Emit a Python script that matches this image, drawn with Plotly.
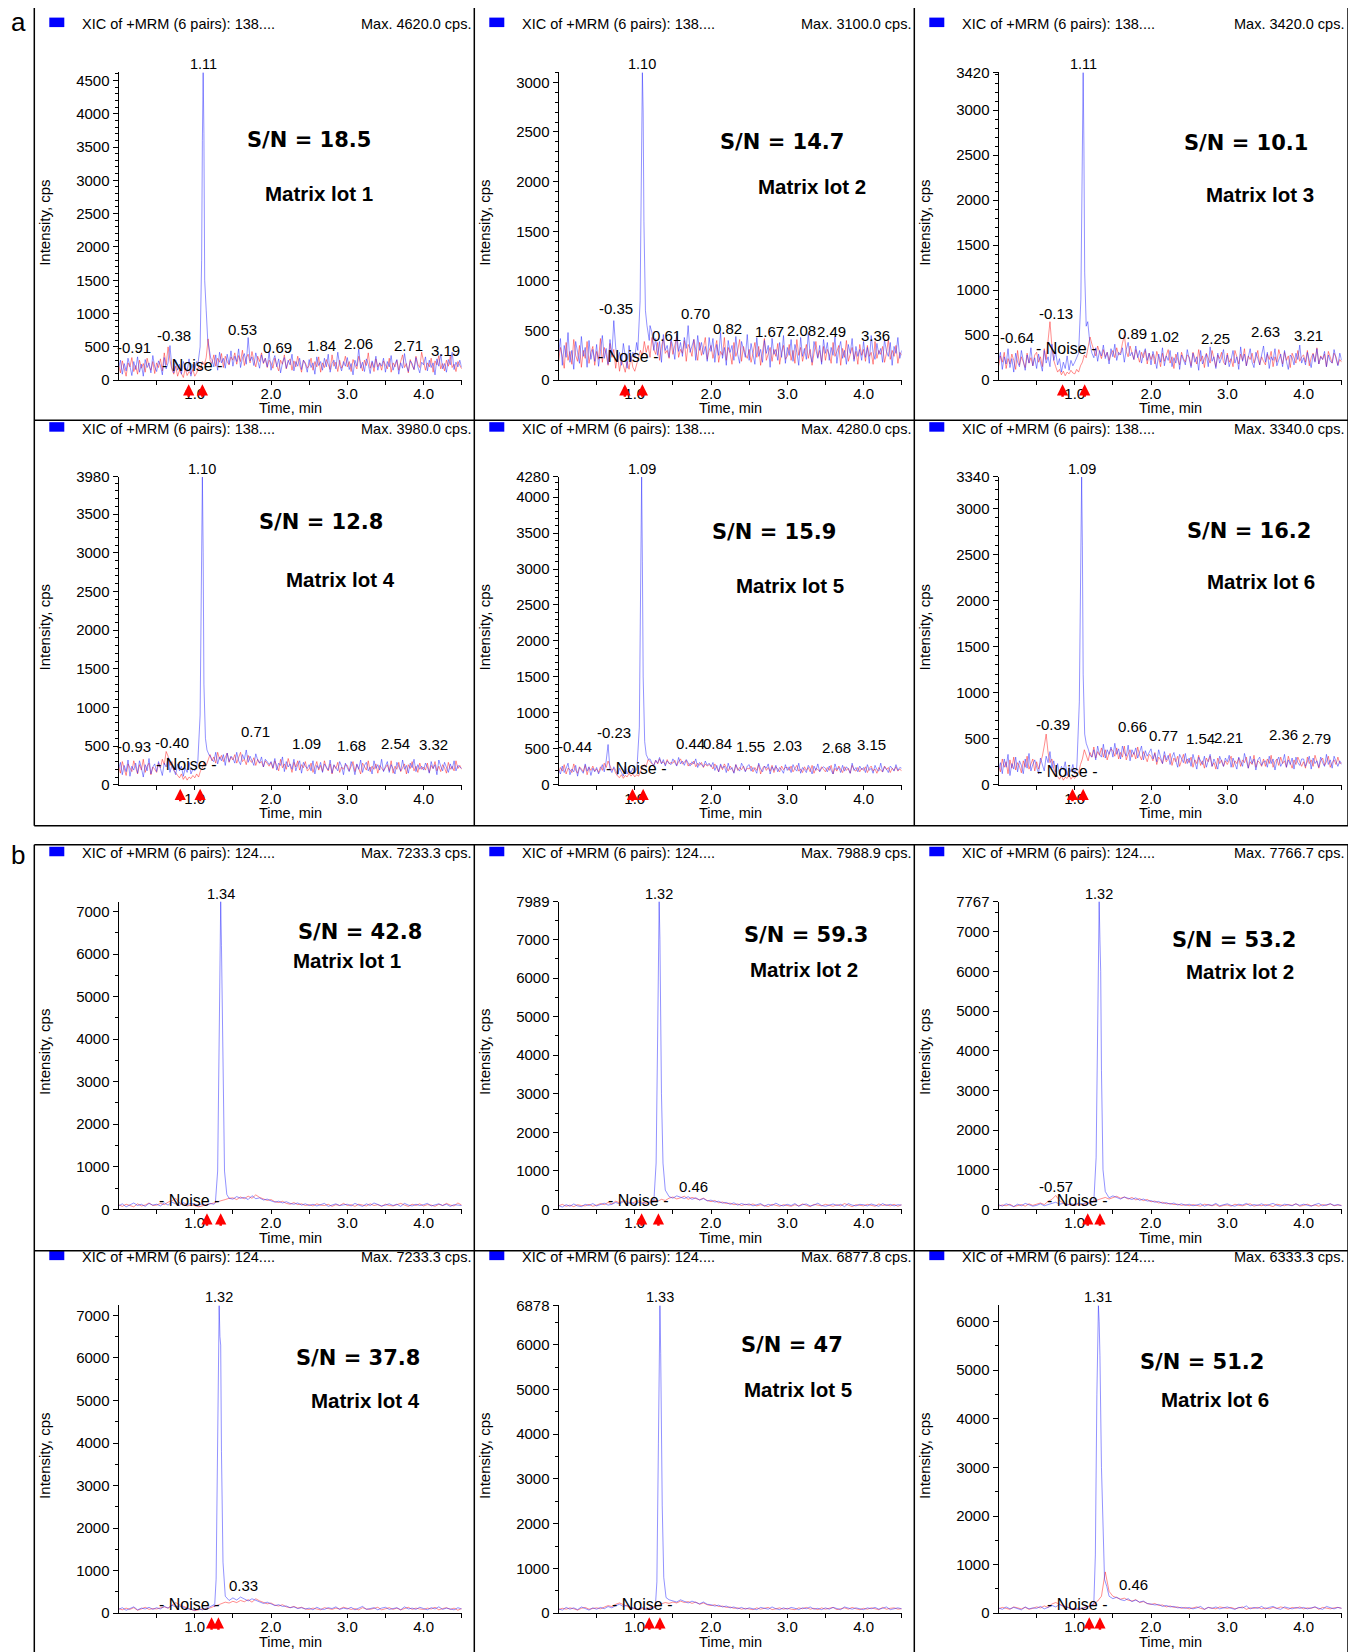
import plotly.graph_objects as go

# ---------------- data ----------------
# sampling times (min) for the top group (a) and the bottom group (b)
TIME_A = [0.000,0.025,0.050,0.075,0.100,0.125,0.150,0.175,0.200,0.225,0.250,0.275,0.300,0.325,0.350,0.375,0.400,0.425,0.450,0.475,
          0.500,0.525,0.550,0.575,0.600,0.625,0.650,0.675,0.700,0.725,0.750,0.775,0.800,0.825,0.850,0.875,0.900,0.925,0.950,0.975,
          1.000,1.025,1.050,1.075,1.100,1.125,1.150,1.175,1.200,1.225,1.250,1.275,1.300,1.325,1.350,1.375,1.400,1.425,1.450,1.475,
          1.500,1.525,1.550,1.575,1.600,1.625,1.650,1.675,1.700,1.725,1.750,1.775,1.800,1.825,1.850,1.875,1.900,1.925,1.950,1.975,
          2.000,2.025,2.050,2.075,2.100,2.125,2.150,2.175,2.200,2.225,2.250,2.275,2.300,2.325,2.350,2.375,2.400,2.425,2.450,2.475,
          2.500,2.525,2.550,2.575,2.600,2.625,2.650,2.675,2.700,2.725,2.750,2.775,2.800,2.825,2.850,2.875,2.900,2.925,2.950,2.975,
          3.000,3.025,3.050,3.075,3.100,3.125,3.150,3.175,3.200,3.225,3.250,3.275,3.300,3.325,3.350,3.375,3.400,3.425,3.450,3.475,
          3.500,3.525,3.550,3.575,3.600,3.625,3.650,3.675,3.700,3.725,3.750,3.775,3.800,3.825,3.850,3.875,3.900,3.925,3.950,3.975,
          4.000,4.025,4.050,4.075,4.100,4.125,4.150,4.175,4.200,4.225,4.250,4.275,4.300,4.325,4.350,4.375,4.400,4.425,4.450,4.475,
          4.500]
TIME_B = [0.00,0.05,0.10,0.15,0.20,0.25,0.30,0.35,0.40,0.45,0.50,0.55,0.60,0.65,0.70,0.75,0.80,0.85,0.90,0.95,
          1.00,1.05,1.10,1.15,1.20,1.25,1.30,1.35,1.40,1.45,1.50,1.55,1.60,1.65,1.70,1.75,1.80,1.85,1.90,1.95,
          2.00,2.05,2.10,2.15,2.20,2.25,2.30,2.35,2.40,2.45,2.50,2.55,2.60,2.65,2.70,2.75,2.80,2.85,2.90,2.95,
          3.00,3.05,3.10,3.15,3.20,3.25,3.30,3.35,3.40,3.45,3.50,3.55,3.60,3.65,3.70,3.75,3.80,3.85,3.90,3.95,
          4.00,4.05,4.10,4.15,4.20,4.25,4.30,4.35,4.40,4.45,4.50]

X_TICKS = [0.5, 1.0, 1.5, 2.0, 2.5, 3.0, 3.5, 4.0, 4.5]
X_TICK_TEXT = ["", "1.0", "", "2.0", "", "3.0", "", "4.0", ""]

# ---- panel a1 ----
A1_BLUE = [180,300,90,250,140,330,210,70,280,160, 350,120,240,60,310,190,260,110,370,200,
           130,290,220,80,340,170,260,520,190,110, 300,150,240,90,280,200,130,320,60,240,
           170,280,200,350,220,300,180,260,450,310, 200,380,150,420,260,330,180,390,240,440,
           210,360,280,470,190,330,400,240,640,290, 350,220,410,300,180,380,260,330,200,420,
           150,290,370,200,320,110,260,340,180,300, 230,390,140,280,210,330,160,300,240,120,
           310,190,260,90,350,220,280,150,330,200, 390,120,250,300,170,420,230,140,280,210,
           340,160,250,80,300,210,470,180,270,130, 320,240,100,290,190,360,150,260,210,330,
           120,280,200,370,150,240,310,90,260,180, 400,220,130,290,250,160,340,200,110,270,
           230,350,140,300,190,260,80,320,210,390, 170,250,120,310,230,420,160,270,200,300,
           190]
A1_RED = [240,110,290,170,60,260,200,340,130,220, 90,300,180,250,120,330,210,150,280,100,
          260,190,320,140,410,230,500,300,160,90, 210,60,150,100,40,180,70,130,90,160,
          60,110,200,150,280,230,340,620,300,250, 380,210,330,270,400,190,360,280,230,350,
          300,410,240,370,280,450,220,340,390,260, 430,300,200,360,280,410,250,330,190,300,
          260,180,330,220,140,300,240,380,170,270, 320,150,290,200,360,230,120,300,260,180,
          220,330,150,280,200,350,120,260,190,310, 240,160,380,210,270,130,300,180,240,360,
          200,280,130,310,230,170,360,250,140,300, 220,410,180,270,130,320,200,260,150,290,
          240,170,330,120,260,200,300,150,280,380, 190,250,110,310,220,160,360,240,190,420,
          280,150,260,200,330,120,290,230,370,170, 250,140,300,210,360,190,240,130,280,220,
          170]
A1_PEAK_T = [1.04, 1.07, 1.09, 1.10, 1.11, 1.12, 1.13, 1.15, 1.17, 1.21]
A1_PEAK_I = [230, 500, 1800, 3600, 4620, 3700, 1500, 1050, 600, 330]
A1_LBL_T = [0.20, 0.73, 1.63, 2.08, 2.66, 3.15, 3.80, 4.29]
A1_LBL_V = [490, 665, 755, 490, 515, 545, 515, 440]
A1_LBL_TXT = ["-0.91", "-0.38", "0.53", "0.69", "1.84", "2.06", "2.71", "3.19"]
A1_ARROWS = [0.92, 1.10]
A1_YTICKS = [0, 500, 1000, 1500, 2000, 2500, 3000, 3500, 4000, 4500]

# ---- panel a2 ----
A2_BLUE = [260,420,150,350,230,480,180,300,110,390, 280,170,440,240,330,130,400,210,310,190,
           360,140,290,450,220,320,160,410,250,600, 330,200,280,150,370,240,120,350,190,280,
           230,380,260,450,310,400,220,330,550,480, 300,420,250,390,180,460,300,350,230,410,
           340,210,470,290,380,240,430,320,550,280, 360,410,200,450,300,380,260,340,190,430,
           290,420,180,360,250,480,220,330,150,400, 280,350,200,440,260,170,390,310,230,460,
           200,370,280,160,430,240,310,180,400,270, 350,130,420,260,310,200,380,230,450,170,
           330,250,410,190,360,280,150,430,240,320, 210,470,260,180,390,300,220,350,160,410,
           270,380,200,330,250,440,170,310,390,220, 300,160,360,270,420,190,340,240,310,200,
           390,230,330,170,450,280,210,370,260,320, 180,410,290,240,380,150,340,270,430,220,
           300]
A2_RED = [180,330,240,120,380,200,290,160,410,250, 190,350,130,300,220,390,170,280,340,150,
          290,210,420,180,330,260,150,370,230,310, 120,260,90,200,150,80,190,110,240,130,
          90,160,210,300,240,390,280,350,230,430, 310,260,380,200,340,420,270,300,220,390,
          260,350,440,230,310,270,400,190,360,320, 240,410,290,200,380,250,330,430,210,300,
          350,220,310,400,180,290,250,430,200,330, 270,160,380,240,300,410,190,340,260,220,
          310,180,270,380,230,340,150,290,420,200, 260,330,190,310,240,370,160,280,350,210,
          240,360,200,300,170,410,250,330,190,280, 360,220,310,150,270,390,230,300,180,340,
          200,310,260,170,380,240,290,350,150,320, 230,400,190,270,330,210,290,160,360,250,
          310,190,350,240,280,160,390,220,300,260, 340,180,270,410,210,300,240,350,170,280,
          250]
A2_PEAK_T = [1.04, 1.07, 1.09, 1.10, 1.11, 1.12, 1.14, 1.16, 1.19]
A2_PEAK_I = [300, 800, 2600, 3100, 2700, 1600, 700, 550, 400]
A2_LBL_T = [0.76, 1.41, 1.80, 2.21, 2.77, 3.18, 3.58, 4.16]
A2_LBL_V = [722, 446, 669, 520, 488, 499, 488, 446]
A2_LBL_TXT = ["-0.35", "0.61", "0.70", "0.82", "1.67", "2.08", "2.49", "3.36"]
A2_ARROWS = [0.87, 1.10]
A2_YTICKS = [0, 500, 1000, 1500, 2000, 2500, 3000]

# ---- panel a3 ----
A3_BLUE = [210,310,120,260,180,350,140,240,90,300, 200,150,330,230,110,280,190,360,160,250,
           130,290,210,100,330,190,260,150,400,220, 310,170,240,90,200,130,270,110,220,160,
           200,260,150,330,230,290,300,420,380,300, 250,360,210,330,270,390,240,310,180,350,
           260,400,220,310,280,360,200,340,420,270, 310,230,380,250,330,190,290,350,220,300,
           170,320,240,130,290,200,360,160,270,220, 330,150,250,190,310,120,280,230,170,340,
           230,140,300,200,260,110,330,180,240,290, 150,370,210,260,130,300,190,250,340,170,
           280,150,230,330,190,260,120,370,210,290, 160,240,350,200,140,310,230,170,280,380,
           200,310,130,260,220,350,160,240,290,150, 330,210,120,280,250,170,300,230,390,190,
           250,170,310,220,140,290,200,350,180,260, 230,320,150,280,210,190,340,240,160,300,
           220]
A3_RED = [150,270,200,310,130,240,180,290,220,120, 330,170,260,210,140,300,190,250,160,280,
          310,200,260,150,350,230,440,650,380,220, 150,90,120,60,100,50,90,70,110,80,
          70,120,90,160,200,280,250,350,480,400, 330,270,380,300,240,340,260,310,220,290,
          330,250,360,280,300,410,500,320,260,380, 290,230,340,270,200,310,250,330,180,300,
          230,290,180,320,250,150,300,210,270,340, 190,260,130,290,230,170,310,240,200,280,
          260,160,310,230,180,340,210,270,140,300, 250,190,330,220,150,280,240,310,200,170,
          300,200,240,150,330,260,180,290,220,350, 160,270,230,300,190,250,330,170,260,210,
          170,290,230,320,150,260,200,340,240,180, 310,220,270,140,300,250,190,330,210,260,
          280,200,330,160,250,300,210,360,180,270, 230,290,150,320,240,190,300,260,170,230,
          200]
A3_PEAK_T = [1.05, 1.08, 1.10, 1.11, 1.12, 1.13, 1.15, 1.17, 1.20]
A3_PEAK_I = [300, 900, 3000, 3420, 2600, 1200, 600, 650, 400]
A3_LBL_T = [0.24, 0.75, 1.76, 2.17, 2.84, 3.50, 4.07]
A3_LBL_V = [473, 740, 518, 481, 459, 540, 492]
A3_LBL_TXT = ["-0.64", "-0.13", "0.89", "1.02", "2.25", "2.63", "3.21"]
A3_ARROWS = [0.84, 1.13]
A3_YTICKS = [0, 500, 1000, 1500, 2000, 2500, 3000, 3420]

# ---- panel a4 ----
A4_BLUE = [200,290,130,250,170,320,110,240,190,280, 150,310,220,100,260,180,340,140,230,270,
           170,300,210,120,280,230,350,160,250,200, 130,270,180,240,110,220,160,290,140,200,
           180,240,160,290,230,330,280,400,380,320, 300,420,270,360,310,390,250,410,300,370,
           340,280,420,310,260,390,330,450,290,370, 310,250,400,320,280,360,230,330,300,260,
           300,220,340,190,280,250,360,170,300,230, 270,200,330,180,260,310,150,290,240,210,
           260,180,310,140,250,210,290,160,270,230, 190,320,150,260,220,180,300,240,130,280,
           220,170,300,240,130,270,200,320,160,250, 290,180,230,140,310,210,260,190,330,170,
           240,300,160,260,210,140,290,230,180,320, 200,250,150,280,220,330,170,260,200,240,
           190,280,230,150,300,210,260,130,320,240, 180,290,220,160,270,200,310,180,250,230,
           210]
A4_RED = [250,150,300,190,120,270,210,170,310,220, 140,260,190,330,160,240,280,130,230,200,
          160,280,220,330,260,430,370,250,300,190, 150,120,90,140,70,110,60,100,80,120,
          90,140,100,180,220,290,250,330,390,310, 360,280,420,330,380,300,350,410,290,360,
          320,390,280,350,420,300,330,260,380,310, 290,350,250,330,280,300,230,310,270,240,
          290,210,310,250,180,330,220,270,200,340, 240,160,290,230,310,190,260,220,300,180,
          200,280,160,240,300,190,250,170,310,220, 180,270,140,250,210,290,160,230,200,260,
          250,180,230,300,170,260,210,140,280,230, 190,310,170,240,200,270,150,250,220,180,
          220,260,180,310,150,240,200,290,170,230, 270,140,260,210,300,180,240,160,280,200,
          230,190,280,160,250,210,300,180,240,170, 260,220,150,290,200,240,180,310,210,250,
          200]
A4_PEAK_T = [1.04, 1.07, 1.09, 1.10, 1.11, 1.12, 1.14, 1.16, 1.19]
A4_PEAK_I = [300, 900, 3200, 3980, 3000, 1300, 600, 450, 380]
A4_LBL_T = [0.20, 0.70, 1.80, 2.47, 3.05, 3.63, 4.13]
A4_LBL_V = [491, 545, 695, 532, 504, 532, 518]
A4_LBL_TXT = ["-0.93", "-0.40", "0.71", "1.09", "1.68", "2.54", "3.32"]
A4_ARROWS = [0.81, 1.07]
A4_YTICKS = [0, 500, 1000, 1500, 2000, 2500, 3000, 3500, 3980]

# ---- panel a5 ----
A5_BLUE = [210,150,260,170,230,300,140,220,180,270, 120,240,200,160,290,190,250,130,230,180,
           240,150,210,280,180,330,560,220,170,250, 200,140,230,180,120,260,150,210,170,230,
           160,220,190,260,240,300,330,450,360,300, 270,340,300,380,290,350,260,330,310,280,
           360,300,260,380,290,330,270,350,310,260, 320,290,360,240,310,280,250,330,270,300,
           250,310,200,270,180,290,230,260,170,300, 210,240,160,280,220,190,300,250,180,260,
           280,190,240,210,160,300,220,180,260,230, 290,150,250,200,270,180,240,210,160,280,
           200,250,170,280,220,190,300,160,240,210, 170,270,230,150,260,200,290,180,230,250,
           230,180,260,200,150,290,210,240,170,270, 190,250,220,160,300,200,240,180,260,210,
           240,170,280,200,230,160,270,210,190,300, 180,250,220,170,260,230,190,280,200,240,
           230]
A5_RED = [170,240,190,280,150,230,210,170,290,200, 160,250,220,180,270,140,240,200,260,190,
          220,170,250,200,300,240,330,260,200,230, 160,120,100,140,90,130,110,160,120,150,
          110,140,120,190,230,280,260,350,320,300, 270,340,290,360,300,320,280,350,290,310,
          300,340,270,320,360,290,310,340,260,300, 280,330,250,300,270,310,240,290,260,280,
          270,220,290,240,180,270,210,290,230,190, 260,220,170,280,200,240,210,260,190,230,
          220,260,180,240,200,280,150,230,260,200, 240,190,270,170,250,220,180,260,210,240,
          240,200,260,180,230,270,190,220,170,250, 200,240,180,270,160,230,210,190,250,220,
          180,240,200,270,150,230,190,260,220,170, 250,200,230,160,270,210,190,240,180,230,
          200,250,170,230,260,190,220,160,240,200, 180,260,210,240,170,230,200,250,190,220,
          190]
A5_PEAK_T = [1.03, 1.06, 1.08, 1.09, 1.10, 1.11, 1.13, 1.15, 1.18]
A5_PEAK_I = [250, 800, 3300, 4280, 3100, 1500, 600, 420, 350]
A5_LBL_T = [0.22, 0.73, 1.73, 2.09, 2.52, 3.00, 3.64, 4.11]
A5_LBL_V = [528, 733, 572, 572, 528, 542, 513, 557]
A5_LBL_TXT = ["-0.44", "-0.23", "0.44", "0.84", "1.55", "2.03", "2.68", "3.15"]
A5_ARROWS = [0.97, 1.11]
A5_YTICKS = [0, 500, 1000, 1500, 2000, 2500, 3000, 3500, 4000, 4280]

# ---- panel a6 ----
A6_BLUE = [160,240,120,280,190,330,100,230,170,300, 140,260,210,120,280,180,340,150,220,270,
           190,120,290,210,150,310,240,360,180,260, 140,230,110,200,160,250,100,190,140,220,
           120,180,150,260,230,350,380,450,320,300, 380,270,420,330,300,440,290,380,330,410,
           300,450,330,390,280,420,350,310,430,260, 380,330,400,290,350,420,270,370,310,360,
           390,280,340,250,380,300,230,360,270,320, 220,300,350,260,190,330,280,240,340,230,
           290,200,330,240,170,300,260,220,310,190, 260,330,200,280,230,170,310,250,200,290,
           250,320,190,290,230,170,300,240,200,340, 260,180,310,230,280,160,270,300,210,250,
           260,190,310,230,280,160,260,300,200,240, 330,190,270,220,290,170,300,240,210,280,
           280,200,250,310,170,290,230,260,190,300, 240,200,330,220,270,180,310,250,200,260,
           220]
A6_RED = [210,140,280,190,250,120,270,180,300,160, 240,200,130,260,190,310,170,230,280,150,
          250,170,230,310,420,550,350,240,280,170, 120,90,60,100,50,80,70,110,60,90,
          70,110,130,220,280,380,330,260,350,300, 410,290,360,320,400,300,380,270,340,390,
          370,310,400,280,350,300,420,270,330,380, 300,350,280,410,320,270,360,300,250,330,
          310,260,350,220,300,270,230,320,250,280, 340,210,290,250,310,200,270,330,230,280,
          240,300,190,270,230,320,210,260,180,290, 250,310,200,240,170,290,230,270,200,260,
          220,270,310,190,260,230,290,200,270,240, 300,180,250,220,320,190,260,240,200,280,
          200,280,230,320,190,250,280,210,300,230, 260,190,310,240,180,270,220,300,250,200,
          250,180,300,230,270,200,320,240,180,260, 290,210,250,310,190,240,270,220,300,230,
          240]
A6_PEAK_T = [1.03, 1.06, 1.08, 1.09, 1.10, 1.11, 1.13, 1.15, 1.18]
A6_PEAK_I = [250, 900, 2800, 3340, 2600, 1200, 550, 450, 380]
A6_LBL_T = [0.71, 1.76, 2.16, 2.65, 3.02, 3.74, 4.17]
A6_LBL_V = [652, 629, 538, 503, 515, 549, 503]
A6_LBL_TXT = ["-0.39", "0.66", "0.77", "1.54", "2.21", "2.36", "2.79"]
A6_ARROWS = [0.97, 1.11]
A6_YTICKS = [0, 500, 1000, 1500, 2000, 2500, 3000, 3340]

# ---- panel b1 ----
B1_BLUE = [80,130,60,110,150,90,120,70,140,100, 120,80,150,100,170,130,90,160,110,140,
           120,100,130,90,140,120,150,280,220,260, 240,300,260,280,230,320,250,270,220,240,
           200,170,190,150,180,140,120,150,100,130, 90,120,80,110,140,70,100,130,90,110,
           120,80,140,100,70,130,90,150,110,80, 100,130,90,120,70,140,100,80,120,90,
           110,140,80,100,130,90,120,70,110,100, 90]
B1_RED = [110,70,120,90,60,130,80,100,150,90, 100,140,110,170,200,260,150,120,80,100,
          90,60,80,110,130,150,180,200,230,260, 270,230,290,250,310,260,340,280,240,210,
          230,180,160,190,140,120,160,110,130,90, 110,80,130,100,90,120,70,110,90,140,
          90,110,70,120,100,80,130,90,110,70, 120,90,80,110,140,100,70,120,90,130,
          80,110,100,70,120,90,140,100,80,150, 100]
B1_PEAK_T = [1.27, 1.30, 1.32, 1.34, 1.35, 1.36, 1.37, 1.39, 1.42]
B1_PEAK_I = [150, 900, 4000, 7233.3, 6200, 5100, 3000, 900, 350]
B1_LBL_T = []
B1_LBL_V = []
B1_LBL_TXT = []
B1_ARROWS = [1.16, 1.34]
B1_YTICKS = [0, 1000, 2000, 3000, 4000, 5000, 6000, 7000]

# ---- panel b2 ----
B2_BLUE = [100,60,120,80,140,90,70,130,100,150, 90,120,160,110,130,180,140,200,150,170,
           140,180,150,200,160,190,170,300,260,330, 290,350,310,280,330,260,300,240,280,220,
           240,190,210,160,180,130,170,110,150,120, 140,90,120,150,80,130,100,160,110,90,
           130,100,150,80,120,140,90,110,160,100, 80,120,140,100,130,70,150,110,90,130,
           120,90,140,110,80,150,100,130,90,120, 110]
B2_RED = [90,130,80,110,70,120,100,90,130,80, 110,150,120,180,140,210,170,230,200,160,
          190,220,180,150,200,240,210,260,230,290, 320,270,300,340,260,310,280,250,290,230,
          200,230,170,190,150,160,120,140,100,130, 110,140,90,120,100,70,130,110,80,120,
          100,80,120,90,140,110,70,130,100,90, 130,100,80,120,90,150,110,70,120,100,
          90,130,110,80,140,100,120,90,130,80, 120]
B2_PEAK_T = [1.25, 1.28, 1.30, 1.32, 1.33, 1.34, 1.35, 1.37, 1.40]
B2_PEAK_I = [200, 1200, 4500, 7988.9, 7000, 5000, 3000, 1200, 500]
B2_LBL_T = [1.77]
B2_LBL_V = [602]
B2_LBL_TXT = ["0.46"]
B2_ARROWS = [1.09, 1.31]
B2_YTICKS = [0, 1000, 2000, 3000, 4000, 5000, 6000, 7000, 7989]

# ---- panel b3 ----
B3_BLUE = [120,80,140,100,70,130,90,150,110,80, 100,140,90,120,160,180,130,150,110,140,
           120,160,130,180,140,170,150,280,320,290, 340,300,260,310,280,250,290,230,260,210,
           220,180,200,150,170,130,160,110,140,100, 130,90,110,140,80,120,100,150,90,110,
           140,100,80,130,110,150,90,120,100,140, 90,120,150,100,80,130,110,90,140,100,
           130,100,80,120,150,90,110,140,100,120, 90]
B3_RED = [80,110,90,130,70,100,120,80,140,100, 130,160,120,200,250,350,220,160,130,110,
          100,130,110,150,180,210,240,270,300,260, 290,330,280,310,260,300,240,270,220,250,
          190,210,160,180,140,150,120,130,100,120, 90,120,100,80,130,110,90,120,70,100,
          110,80,130,100,90,120,140,80,110,90, 120,100,70,130,110,90,120,100,140,80,
          100,130,90,110,80,120,100,140,90,110, 100]
B3_PEAK_T = [1.25, 1.28, 1.30, 1.32, 1.33, 1.34, 1.35, 1.37, 1.40]
B3_PEAK_I = [200, 1300, 5200, 7766.7, 6800, 6000, 3500, 1000, 450]
B3_LBL_T = [0.75]
B3_LBL_V = [585]
B3_LBL_TXT = ["-0.57"]
B3_ARROWS = [1.17, 1.33]
B3_YTICKS = [0, 1000, 2000, 3000, 4000, 5000, 6000, 7000, 7767]

# ---- panel b4 ----
B4_BLUE = [90,130,70,110,150,80,120,100,140,90, 130,100,160,120,190,150,170,130,110,90,
           70,100,80,120,150,200,180,260,340,300, 360,310,380,330,290,340,300,270,230,260,
           210,180,200,160,170,130,150,110,130,100, 120,80,140,100,90,130,110,150,90,120,
           100,140,80,120,160,90,110,130,80,120, 140,90,110,130,80,150,100,120,90,140,
           110,80,130,100,150,90,120,100,80,130, 100]
B4_RED = [110,80,120,90,130,70,100,140,90,110, 100,130,150,120,180,250,200,160,120,90,
          60,80,100,90,130,160,190,230,260,240, 280,250,300,270,320,260,340,290,250,220,
          240,190,170,200,150,130,160,120,140,100, 90,120,100,80,130,110,90,120,100,140,
          120,90,110,80,130,100,90,120,140,80, 100,130,90,120,80,110,140,90,120,100,
          90,120,100,140,80,110,130,90,120,70, 110]
B4_PEAK_T = [1.26, 1.28, 1.30, 1.32, 1.33, 1.34, 1.35, 1.37, 1.40]
B4_PEAK_I = [150, 800, 4200, 7233.3, 6500, 6300, 3800, 1200, 400]
B4_LBL_T = [1.64]
B4_LBL_V = [644]
B4_LBL_TXT = ["0.33"]
B4_ARROWS = [1.22, 1.31]
B4_YTICKS = [0, 1000, 2000, 3000, 4000, 5000, 6000, 7000]

# ---- panel b5 ----
B5_BLUE = [100,70,130,90,120,80,140,100,70,120, 90,130,100,150,120,170,200,150,180,130,
           110,90,130,80,110,120,150,200,260,300, 280,250,300,260,230,270,240,210,250,200,
           190,160,180,140,160,120,140,100,130,90, 120,100,80,130,110,90,140,100,80,120,
           90,130,110,80,120,100,140,90,110,80, 120,90,130,100,80,140,110,90,120,100,
           80,120,100,130,90,110,140,80,100,120, 100]
B5_RED = [80,110,90,120,100,70,110,130,90,100, 120,100,140,170,150,200,230,190,160,120,
          100,80,110,90,120,140,170,210,240,220, 250,230,270,240,260,220,250,200,230,190,
          170,190,150,160,130,140,110,120,90,110, 100,80,120,90,110,130,80,100,120,90,
          110,90,80,120,100,130,90,110,80,120, 90,110,130,80,100,120,90,130,100,80,
          110,90,120,100,80,130,90,110,120,90, 100]
B5_PEAK_T = [1.27, 1.29, 1.31, 1.33, 1.34, 1.35, 1.36, 1.38, 1.41]
B5_PEAK_I = [150, 700, 3800, 6877.8, 5800, 4000, 2400, 800, 350]
B5_LBL_T = []
B5_LBL_V = []
B5_LBL_TXT = []
B5_ARROWS = [1.19, 1.33]
B5_YTICKS = [0, 1000, 2000, 3000, 4000, 5000, 6000, 6878]

# ---- panel b6 ----
B6_BLUE = [110,80,130,90,120,100,70,130,90,110, 100,140,90,120,160,130,180,140,120,100,
           80,110,90,130,150,180,160,300,400,350, 300,330,280,260,300,240,270,230,250,200,
           190,170,180,140,160,130,140,110,120,100, 120,90,110,140,80,120,100,130,90,110,
           130,100,80,120,110,150,90,120,100,140, 90,120,140,100,80,130,110,90,120,100,
           120,90,110,130,100,80,140,110,90,120, 100]
B6_RED = [90,120,100,80,130,110,90,120,80,100, 130,110,150,120,190,220,180,150,130,100,
          90,70,100,120,150,180,250,350,850,450, 350,320,290,310,270,250,280,220,240,200,
          180,200,160,170,130,150,120,130,100,120, 90,110,130,100,80,120,100,90,130,110,
          100,120,90,110,130,80,110,100,120,90, 110,90,120,100,130,110,80,120,100,130,
          90,110,100,130,80,120,100,90,110,120, 100]
B6_PEAK_T = [1.25, 1.27, 1.29, 1.31, 1.32, 1.33, 1.35, 1.37, 1.39, 1.42]
B6_PEAK_I = [200, 1200, 4500, 6333.3, 6000, 5300, 3000, 1500, 700, 550]
B6_LBL_T = [1.77]
B6_LBL_V = [586]
B6_LBL_TXT = ["0.46"]
B6_ARROWS = [1.19, 1.33]
B6_YTICKS = [0, 1000, 2000, 3000, 4000, 5000, 6000]

# ---------------- layout config ----------------
W, H = 1356, 1652
# the page shows the figure with a small offset and a slight vertical squeeze;
# these constants map target picture pixels to figure coordinates
OFF_X, OFF_Y, SCALE_Y = 8.0, 16.0, 0.99
RIGHT_LIMIT = 1346.0   # the last few pixels on the right are not shown
FONT = "Arial, 'Liberation Sans', sans-serif"
BLUE_LINE = "rgba(40,40,255,0.5)"
RED_LINE = "rgba(255,30,30,0.5)"

COL_LEFT = [34.3, 474.3, 914.3]
ROW_TOP = [14.6, 419.3, 844.0, 1248.0]

PANELS = [
    dict(col=0, row=0, ymax=4620.0, t=TIME_A, blue=A1_BLUE, red=A1_RED, pt=A1_PEAK_T, pi=A1_PEAK_I, lt=A1_LBL_T, lv=A1_LBL_V, ltx=A1_LBL_TXT,
         arrows=A1_ARROWS, yt=A1_YTICKS, noise=(0.96, 215), tri=221, mz="138....", mx="Max. 4620.0 cps.",
         sn="S/N = 18.5", lot="Matrix lot 1", sn_xy=(308.7, 139.1), lot_xy=(319.2, 192.8), minor=100),
    dict(col=1, row=0, ymax=3100.0, t=TIME_A, blue=A2_BLUE, red=A2_RED, pt=A2_PEAK_T, pi=A2_PEAK_I, lt=A2_LBL_T, lv=A2_LBL_V, ltx=A2_LBL_TXT,
         arrows=A2_ARROWS, yt=A2_YTICKS, noise=(0.91, 234), tri=149, mz="138....", mx="Max. 3100.0 cps.",
         sn="S/N = 14.7", lot="Matrix lot 2", sn_xy=(781.8, 141.2), lot_xy=(812.3, 185.4), minor=100),
    dict(col=2, row=0, ymax=3420.0, t=TIME_A, blue=A3_BLUE, red=A3_RED, pt=A3_PEAK_T, pi=A3_PEAK_I, lt=A3_LBL_T, lv=A3_LBL_V, ltx=A3_LBL_TXT,
         arrows=A3_ARROWS, yt=A3_YTICKS, noise=(0.89, 351), tri=164, mz="138....", mx="Max. 3420.0 cps.",
         sn="S/N = 10.1", lot="Matrix lot 3", sn_xy=(1246.4, 142.2), lot_xy=(1260.1, 193.9), minor=100),
    dict(col=0, row=1, ymax=3980.0, t=TIME_A, blue=A4_BLUE, red=A4_RED, pt=A4_PEAK_T, pi=A4_PEAK_I, lt=A4_LBL_T, lv=A4_LBL_V, ltx=A4_LBL_TXT,
         arrows=A4_ARROWS, yt=A4_YTICKS, noise=(0.89, 259), tri=191, mz="138....", mx="Max. 3980.0 cps.",
         sn="S/N = 12.8", lot="Matrix lot 4", sn_xy=(321.3, 521.5), lot_xy=(340.3, 578.4), minor=100),
    dict(col=1, row=1, ymax=4280.0, t=TIME_A, blue=A5_BLUE, red=A5_RED, pt=A5_PEAK_T, pi=A5_PEAK_I, lt=A5_LBL_T, lv=A5_LBL_V, ltx=A5_LBL_TXT,
         arrows=A5_ARROWS, yt=A5_YTICKS, noise=(1.01, 220), tri=220, mz="138....", mx="Max. 4280.0 cps.",
         sn="S/N = 15.9", lot="Matrix lot 5", sn_xy=(774.4, 531.0), lot_xy=(790.2, 584.7), minor=100),
    dict(col=2, row=1, ymax=3340.0, t=TIME_A, blue=A6_BLUE, red=A6_RED, pt=A6_PEAK_T, pi=A6_PEAK_I, lt=A6_LBL_T, lv=A6_LBL_V, ltx=A6_LBL_TXT,
         arrows=A6_ARROWS, yt=A6_YTICKS, noise=(0.90, 149), tri=172, mz="138....", mx="Max. 3340.0 cps.",
         sn="S/N = 16.2", lot="Matrix lot 6", sn_xy=(1248.5, 530.0), lot_xy=(1261.2, 580.5), minor=100),
    dict(col=0, row=2, ymax=7233.3, t=TIME_B, blue=B1_BLUE, red=B1_RED, pt=B1_PEAK_T, pi=B1_PEAK_I, lt=B1_LBL_T, lv=B1_LBL_V, ltx=B1_LBL_TXT,
         arrows=B1_ARROWS, yt=B1_YTICKS, noise=(0.93, 198), tri=347, mz="124....", mx="Max. 7233.3 cps.",
         sn="S/N = 42.8", lot="Matrix lot 1", sn_xy=(360.3, 931.4), lot_xy=(346.6, 959.8), minor=500),
    dict(col=1, row=2, ymax=7988.9, t=TIME_B, blue=B2_BLUE, red=B2_RED, pt=B2_PEAK_T, pi=B2_PEAK_I, lt=B2_LBL_T, lv=B2_LBL_V, ltx=B2_LBL_TXT,
         arrows=B2_ARROWS, yt=B2_YTICKS, noise=(1.04, 219), tri=383, mz="124....", mx="Max. 7988.9 cps.",
         sn="S/N = 59.3", lot="Matrix lot 2", sn_xy=(806.0, 934.5), lot_xy=(803.9, 968.3), minor=500),
    dict(col=2, row=2, ymax=7766.7, t=TIME_B, blue=B3_BLUE, red=B3_RED, pt=B3_PEAK_T, pi=B3_PEAK_I, lt=B3_LBL_T, lv=B3_LBL_V, ltx=B3_LBL_TXT,
         arrows=B3_ARROWS, yt=B3_YTICKS, noise=(1.03, 213), tri=372, mz="124....", mx="Max. 7766.7 cps.",
         sn="S/N = 53.2", lot="Matrix lot 2", sn_xy=(1233.8, 938.8), lot_xy=(1240.1, 970.4), minor=500),
    dict(col=0, row=3, ymax=7233.3, t=TIME_B, blue=B4_BLUE, red=B4_RED, pt=B4_PEAK_T, pi=B4_PEAK_I, lt=B4_LBL_T, lv=B4_LBL_V, ltx=B4_LBL_TXT,
         arrows=B4_ARROWS, yt=B4_YTICKS, noise=(0.93, 198), tri=347, mz="124....", mx="Max. 7233.3 cps.",
         sn="S/N = 37.8", lot="Matrix lot 4", sn_xy=(358.2, 1357.0), lot_xy=(365.6, 1400.2), minor=500),
    dict(col=1, row=3, ymax=6877.8, t=TIME_B, blue=B5_BLUE, red=B5_RED, pt=B5_PEAK_T, pi=B5_PEAK_I, lt=B5_LBL_T, lv=B5_LBL_V, ltx=B5_LBL_TXT,
         arrows=B5_ARROWS, yt=B5_YTICKS, noise=(1.09, 188), tri=353, mz="124....", mx="Max. 6877.8 cps.",
         sn="S/N = 47", lot="Matrix lot 5", sn_xy=(792.3, 1344.4), lot_xy=(797.6, 1388.6), minor=500),
    dict(col=2, row=3, ymax=6333.3, t=TIME_B, blue=B6_BLUE, red=B6_RED, pt=B6_PEAK_T, pi=B6_PEAK_I, lt=B6_LBL_T, lv=B6_LBL_V, ltx=B6_LBL_TXT,
         arrows=B6_ARROWS, yt=B6_YTICKS, noise=(1.03, 173), tri=325, mz="124....", mx="Max. 6333.3 cps.",
         sn="S/N = 51.2", lot="Matrix lot 6", sn_xy=(1202.2, 1361.3), lot_xy=(1214.8, 1399.2), minor=500),
]


def px_x(px):
    return (px - OFF_X) / W


def px_y(py):
    return 1 - ((py - OFF_Y) / SCALE_Y) / H


def merge(grid_t, grid_v, pk_t, pk_v):
    lo, hi = min(pk_t), max(pk_t)
    pts = [(t, v) for t, v in zip(grid_t, grid_v) if t < lo or t > hi]
    pts += list(zip(pk_t, pk_v))
    pts.sort()
    return [q[0] for q in pts], [q[1] for q in pts]


fig = go.Figure()
annotations = []
shapes = []
layout_axes = {}


def txt(**kw):
    d = dict(showarrow=False, xanchor="center", yanchor="middle")
    d.update(kw)
    return d


for idx, p in enumerate(PANELS):
    assert len(p["blue"]) == len(p["t"]), (idx, "blue", len(p["blue"]))
    assert len(p["red"]) == len(p["t"]), (idx, "red", len(p["red"]))
    n = idx + 1
    xa = "x" if n == 1 else f"x{n}"
    ya = "y" if n == 1 else f"y{n}"
    xkey = "xaxis" if n == 1 else f"xaxis{n}"
    ykey = "yaxis" if n == 1 else f"yaxis{n}"
    Lp = COL_LEFT[p["col"]]
    T = ROW_TOP[p["row"]]
    x0, x1 = Lp + 84.2, Lp + 427.4
    yb, yt = T + 364.7, T + 56.8

    layout_axes[xkey] = dict(
        domain=[px_x(x0), px_x(x1)], anchor=ya, range=[0, 4.5],
        showline=True, linecolor="black", linewidth=1, mirror=False,
        ticks="outside", ticklen=4, tickcolor="black", tickwidth=1,
        tickmode="array", tickvals=X_TICKS, ticktext=X_TICK_TEXT, ticklabelstandoff=-4,
        tickfont=dict(family=FONT, size=15, color="black"),
        showgrid=False, zeroline=False, fixedrange=True,
    )
    minor_vals = list(range(0, int(p["ymax"]) + 1, p["minor"]))
    layout_axes[ykey] = dict(
        domain=[px_y(yb), px_y(yt)], anchor=xa, range=[0, p["ymax"]],
        showline=True, linecolor="black", linewidth=1,
        ticks="outside", ticklen=5, tickcolor="black", tickwidth=1,
        tickmode="array", tickvals=p["yt"], ticktext=[str(v) for v in p["yt"]],
        tickfont=dict(family=FONT, size=15, color="black"),
        minor=dict(tickmode="array", tickvals=minor_vals, ticks="outside", ticklen=3, tickcolor="black"),
        showgrid=False, zeroline=False, fixedrange=True,
    )

    # traces
    fig.add_trace(go.Scatter(x=p["t"], y=p["red"], mode="lines", line=dict(color=RED_LINE, width=1),
                             xaxis=xa, yaxis=ya, hoverinfo="skip"))
    bt, bv = merge(p["t"], p["blue"], p["pt"], p["pi"])
    fig.add_trace(go.Scatter(x=bt, y=bv, mode="lines", line=dict(color=BLUE_LINE, width=1),
                             xaxis=xa, yaxis=ya, hoverinfo="skip"))
    fig.add_trace(go.Scatter(x=[-0.045], y=[p["tri"]], mode="markers", cliponaxis=False,
                             marker=dict(symbol="triangle-right", size=10, color="#0000ff"),
                             xaxis=xa, yaxis=ya, hoverinfo="skip"))

    # peak label
    imax = max(range(len(p["pi"])), key=lambda i: p["pi"][i])
    annotations.append(txt(x=p["pt"][imax], y=p["pi"][imax], xref=xa, yref=ya, text=f"{p['pt'][imax]:.2f}",
                           yanchor="bottom", yshift=-2, font=dict(family=FONT, size=14.5, color="black")))
    # other labels
    for t, v, s in zip(p["lt"], p["lv"], p["ltx"]):
        annotations.append(txt(x=t, y=v, xref=xa, yref=ya, text=s,
                               font=dict(family=FONT, size=15, color="black")))
    # noise
    annotations.append(txt(x=p["noise"][0], y=p["noise"][1], xref=xa, yref=ya, text="- Noise -",
                           font=dict(family=FONT, size=16, color="black")))
    # red arrows
    for t in p["arrows"]:
        annotations.append(dict(x=t, y=0, xref=xa, yref=ya, text="", showarrow=True,
                                arrowhead=2, arrowsize=0.9, arrowwidth=2.5, arrowcolor="#ff0000",
                                ax=0, ay=14, yshift=-4))
    # headers
    annotations.append(txt(x=px_x(Lp + 46), y=px_y(T + 8.5), xref="paper", yref="paper",
                           text=f"XIC of +MRM (6 pairs): {p['mz']}",
                           xanchor="left", font=dict(family=FONT, size=14.5, color="black")))
    annotations.append(txt(x=px_x(min(Lp + 439, RIGHT_LIMIT)), y=px_y(T + 8.5), xref="paper", yref="paper",
                           text=p["mx"], xanchor="right", font=dict(family=FONT, size=14.5, color="black")))
    shapes.append(dict(type="rect", xref="paper", yref="paper",
                       x0=px_x(Lp + 15), x1=px_x(Lp + 30), y0=px_y(T + 11.5), y1=px_y(T + 2),
                       fillcolor="#0000ff", line=dict(width=0)))
    # axis titles
    annotations.append(txt(x=px_x(Lp + 10), y=px_y(T + 207), xref="paper", yref="paper",
                           text="Intensity, cps", textangle=-90,
                           font=dict(family=FONT, size=15, color="black")))
    annotations.append(txt(x=px_x((x0 + x1) / 2), y=px_y(T + 393), xref="paper", yref="paper",
                           text="Time, min", font=dict(family=FONT, size=14.5, color="black")))
    # S/N and matrix lot
    annotations.append(txt(x=px_x(p["sn_xy"][0]), y=px_y(p["sn_xy"][1]), xref="paper", yref="paper",
                           text=f"<b>{p['sn']}</b>",
                           font=dict(family="'DejaVu Sans', Verdana, sans-serif", size=21, color="black")))
    annotations.append(txt(x=px_x(p["lot_xy"][0]), y=px_y(p["lot_xy"][1]), xref="paper", yref="paper",
                           text=f"<b>{p['lot']}</b>", font=dict(family=FONT, size=20.5, color="black")))

# panel letters
annotations.append(txt(x=px_x(18), y=px_y(21), xref="paper", yref="paper", text="a",
                       font=dict(family=FONT, size=26, color="black")))
annotations.append(txt(x=px_x(18), y=px_y(854.5), xref="paper", yref="paper", text="b",
                       font=dict(family=FONT, size=26, color="black")))


# panel borders
def vline(x, y0, y1):
    shapes.append(dict(type="line", xref="paper", yref="paper", x0=px_x(x), x1=px_x(x),
                       y0=px_y(y0), y1=px_y(y1), line=dict(color="black", width=1.5)))


def hline(y, x0, x1):
    shapes.append(dict(type="line", xref="paper", yref="paper", x0=px_x(x0), x1=px_x(x1),
                       y0=px_y(y), y1=px_y(y), line=dict(color="black", width=1.5)))


for xv in [34.3, 474.3, 914.3, RIGHT_LIMIT + 2]:
    vline(xv, 0, 825)
    vline(xv, 844, 1660)
for yv in [419.3, 825.0, 844.0, 1250.0]:
    hline(yv, 34.3, RIGHT_LIMIT + 2)

fig.update_layout(
    width=W, height=H, margin=dict(l=0, r=0, t=0, b=0),
    paper_bgcolor="white", plot_bgcolor="white", showlegend=False,
    annotations=annotations, shapes=shapes, font=dict(family=FONT, color="black"),
    **layout_axes,
)

fig.write_html("out.html")
